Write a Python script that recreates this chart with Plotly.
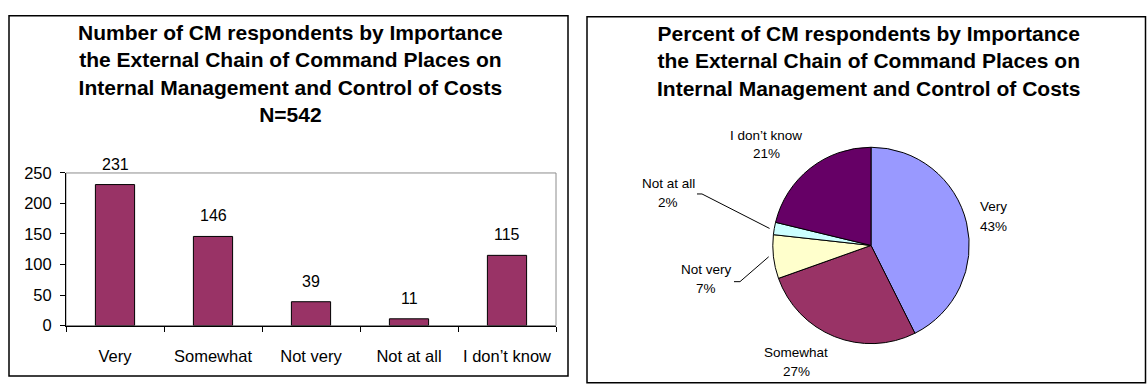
import math
import plotly.graph_objects as go

# Survey responses: importance the external chain of command places on
# internal management and control of costs
categories = ["Very", "Somewhat", "Not very", "Not at all", "I don\u2019t know"]
counts = [231, 146, 39, 11, 115]
y_ticks = [0, 50, 100, 150, 200, 250]

# Styling
W, H = 1147, 386
FONT = "Liberation Sans, Arial, sans-serif"
BAR_COLOR = "#993366"
PIE_COLORS = ["#9999FF", "#993366", "#FFFFCC", "#CCFFFF", "#660066"]

# Pie geometry (pixels): centre and radius
PIE_CX, PIE_CY, PIE_R = 871, 248, 103

# Pie label placement (pixels): centre x, name line y, percent line y
pie_label_pos = [(993, 207, 228), (796, 360, 380), (706, 273, 293),
                 (668, 183, 203), (766, 133, 152)]
# Leader-line start points (pixels) for the thin slices
leader_start = {2: [(734, 286), (740, 286)], 3: [(697, 194), (702, 194)]}


def px(x):
    return x / W


def py(y):
    return 1 - y / H


total = sum(counts)

fig = go.Figure()

fig.add_trace(go.Bar(
    x=categories, y=counts,
    marker=dict(color=BAR_COLOR, line=dict(color="black", width=1)),
    xaxis="x", yaxis="y", hoverinfo="x+y",
))

fig.add_trace(go.Pie(
    labels=categories, values=counts,
    marker=dict(colors=PIE_COLORS, line=dict(color="black", width=1)),
    sort=False, direction="clockwise", rotation=0,
    textinfo="none",
    domain=dict(x=[px(PIE_CX - PIE_R), px(PIE_CX + PIE_R)],
                y=[py(PIE_CY + PIE_R), py(PIE_CY - PIE_R)]),
))

annotations = []
shapes = []

# Panel frames
shapes.append(dict(type="rect", xref="paper", yref="paper",
                   x0=px(9), x1=px(568), y0=py(385), y1=py(7),
                   line=dict(color="black", width=1.5), layer="below"))
shapes.append(dict(type="rect", xref="paper", yref="paper",
                   x0=px(587), x1=px(1145.5), y0=py(392), y1=py(8),
                   line=dict(color="black", width=1.5), layer="below"))

# Plot-area border of the bar chart (grey top and right edges)
shapes.append(dict(type="rect", xref="x domain", yref="y domain",
                   x0=0, x1=1, y0=0, y1=1,
                   line=dict(color="#8c8c8c", width=1), layer="below"))

# Titles
TITLE_FONT = dict(family=FONT, size=21, color="black", weight="bold")
annotations.append(dict(
    xref="paper", yref="paper", x=px(290), y=py(68),
    xanchor="center", yanchor="middle", showarrow=False,
    text=("Number of CM respondents by Importance<br>"
          "the External Chain of Command Places on<br>"
          "Internal Management and Control of Costs<br>"
          f"N={total}"),
    font=TITLE_FONT, align="center",
))
annotations.append(dict(
    xref="paper", yref="paper", x=px(869), y=py(55),
    xanchor="center", yanchor="middle", showarrow=False,
    text=("Percent of CM respondents by Importance<br>"
          "the External Chain of Command Places on<br>"
          "Internal Management and Control of Costs"),
    font=TITLE_FONT, align="center",
))

# Bar value labels
for cat, v in zip(categories, counts):
    annotations.append(dict(
        xref="x", yref="y", x=cat, y=v, xanchor="center", yanchor="bottom",
        yshift=10, showarrow=False, text=str(v),
        font=dict(family=FONT, size=16, color="black"),
    ))

# Pie labels and leader lines
cum = 0
for i, (cat, v) in enumerate(zip(categories, counts)):
    frac = v / total
    mid = (cum + frac / 2) * 2 * math.pi
    cum += frac
    lx, ny, pyy = pie_label_pos[i]
    annotations.append(dict(
        xref="paper", yref="paper", x=px(lx), y=py(ny),
        xanchor="center", yanchor="middle", showarrow=False,
        text=cat, font=dict(family=FONT, size=13.5, color="black"),
    ))
    annotations.append(dict(
        xref="paper", yref="paper", x=px(lx), y=py(pyy),
        xanchor="center", yanchor="middle", showarrow=False,
        text=f"{round(frac * 100)}%",
        font=dict(family=FONT, size=13.5, color="black"),
    ))
    if i in leader_start:
        ex = PIE_CX + PIE_R * math.sin(mid)
        ey = PIE_CY - PIE_R * math.cos(mid)
        pts = leader_start[i] + [(ex, ey)]
        path = "M " + " L ".join(f"{px(a):.5f},{py(b):.5f}" for a, b in pts)
        shapes.append(dict(type="path", xref="paper", yref="paper",
                           path=path, line=dict(color="black", width=1)))

fig.update_layout(
    width=W, height=H,
    margin=dict(l=0, r=0, t=0, b=0),
    paper_bgcolor="white", plot_bgcolor="white",
    showlegend=False,
    font=dict(family=FONT, color="black"),
    bargap=0.6,
    xaxis=dict(
        domain=[px(66), px(556)], anchor="y",
        type="category", range=[-0.5, 4.5],
        tickson="boundaries", ticks="outside", ticklen=5, tickcolor="black",
        showline=True, linecolor="black", linewidth=1,
        showgrid=False, zeroline=False, tickangle=0,
        tickfont=dict(family=FONT, size=16.5, color="black"),
        ticklabelstandoff=16,
    ),
    yaxis=dict(
        domain=[py(332), py(172)], anchor="x",
        range=[0, 250], tickvals=y_ticks,
        ticks="outside", ticklen=5, tickcolor="black",
        showline=True, linecolor="black", linewidth=1,
        showgrid=False, zeroline=False,
        tickfont=dict(family=FONT, size=16.5, color="black"),
        ticklabelstandoff=5,
    ),
    annotations=annotations,
    shapes=shapes,
)

fig.write_html("out.html")
